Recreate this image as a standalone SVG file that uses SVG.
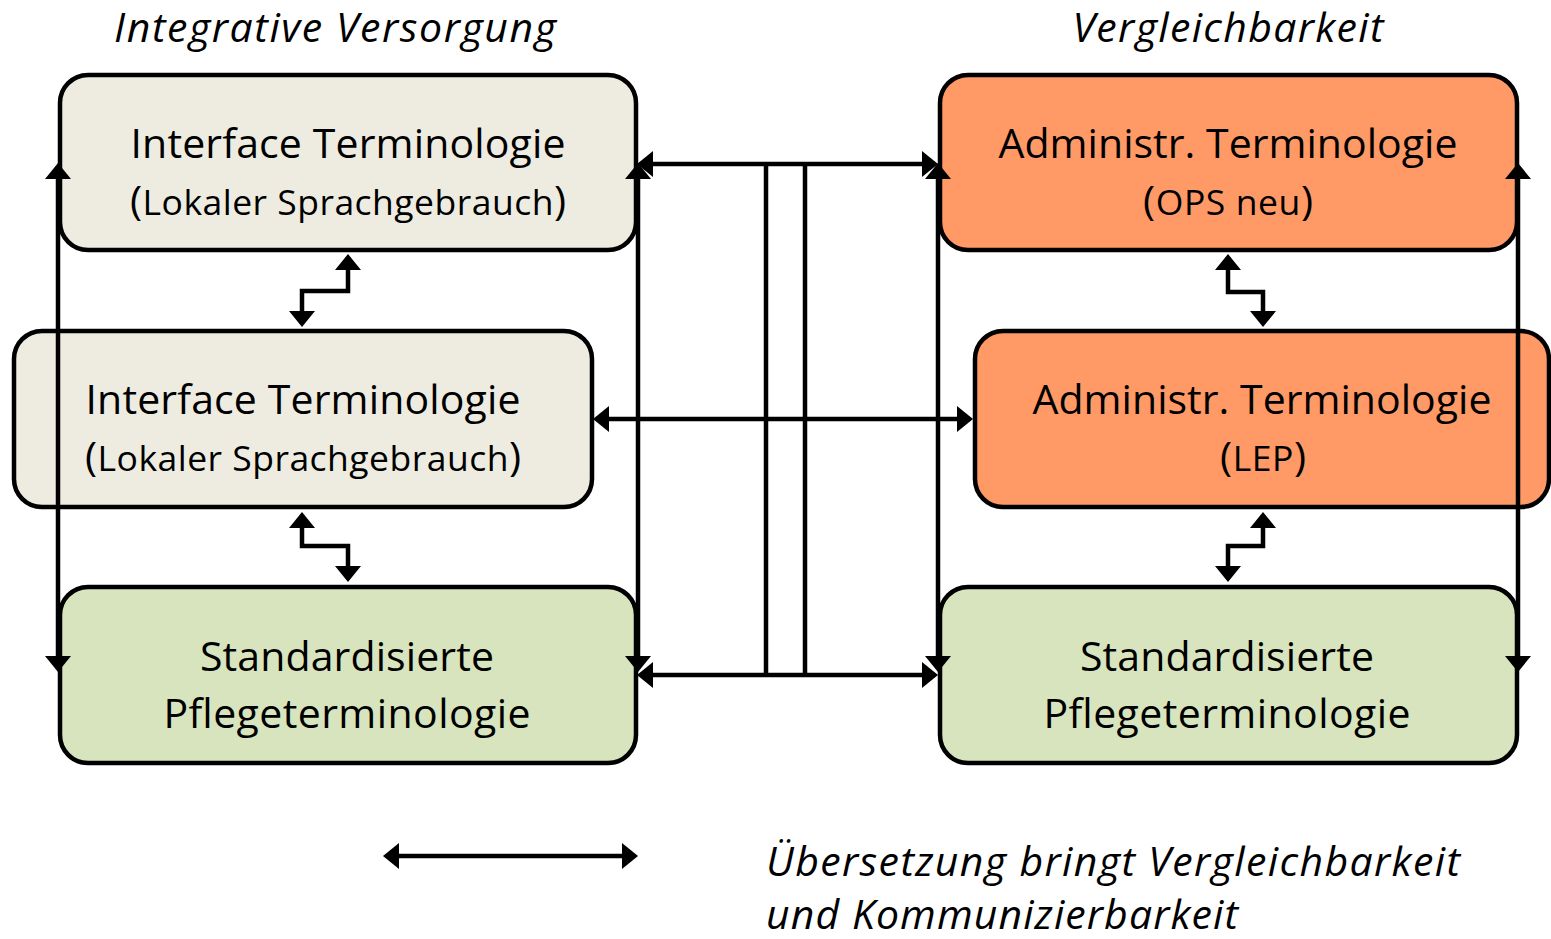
<svg xmlns="http://www.w3.org/2000/svg" width="1551" height="939" viewBox="0 0 1551 939">
<style>
.box{stroke:#000;stroke-width:4.5}
.beige{fill:#EEECE1}
.green{fill:#D7E4BD}
.orange{fill:#FF9966}
text{font-family:"Open Sans","Noto Sans",sans-serif;fill:#000;text-anchor:middle}
.big{font-size:41px}
.sub{font-size:35.5px}
.par{font-size:41px}
.it{font-style:italic;font-size:41px}
.leg{font-style:italic;font-size:41px;text-anchor:start}
.con{fill:none;stroke:#000;stroke-width:4.5}
</style>
<defs>
<marker id="ah" viewBox="0 0 16 26" markerWidth="16" markerHeight="26" refX="13" refY="13" orient="auto-start-reverse" markerUnits="userSpaceOnUse">
<path d="M0,0 L16,13 L0,26 z" fill="#000"/>
</marker>
</defs>
<rect width="1551" height="939" fill="#fff"/>
<g id="titles">
<text class="it" x="335" y="42" textLength="442">Integrative Versorgung</text>
<text class="it" x="1228" y="42" textLength="311">Vergleichbarkeit</text>
</g>
<g id="node-L1">
<rect class="box beige" x="60" y="75" width="576" height="175" rx="28"/>
<text class="big" x="348" y="158" textLength="435">Interface Terminologie</text>
<text class="sub" x="348" y="215" textLength="436"><tspan class="par">(</tspan>Lokaler Sprachgebrauch<tspan class="par">)</tspan></text>
</g>
<g id="node-L2">
<rect class="box beige" x="14" y="331" width="578" height="176" rx="28"/>
<text class="big" x="303" y="414" textLength="435">Interface Terminologie</text>
<text class="sub" x="303" y="471" textLength="436"><tspan class="par">(</tspan>Lokaler Sprachgebrauch<tspan class="par">)</tspan></text>
</g>
<g id="node-L3">
<rect class="box green" x="60" y="587" width="576" height="176" rx="28"/>
<text class="big" x="347" y="671" textLength="294">Standardisierte</text>
<text class="big" x="347" y="728" textLength="367">Pflegeterminologie</text>
</g>
<g id="node-R1">
<rect class="box orange" x="940" y="75" width="577" height="175" rx="28"/>
<text class="big" x="1228" y="158" textLength="459">Administr. Terminologie</text>
<text class="sub" x="1228" y="215" textLength="170"><tspan class="par">(</tspan>OPS neu<tspan class="par">)</tspan></text>
</g>
<g id="node-R2">
<rect class="box orange" x="975" y="331" width="574" height="176" rx="28"/>
<text class="big" x="1262" y="414" textLength="459">Administr. Terminologie</text>
<text class="sub" x="1263" y="471" textLength="86"><tspan class="par">(</tspan>LEP<tspan class="par">)</tspan></text>
</g>
<g id="node-R3">
<rect class="box green" x="940" y="587" width="577" height="176" rx="28"/>
<text class="big" x="1227" y="671" textLength="294">Standardisierte</text>
<text class="big" x="1227" y="728" textLength="367">Pflegeterminologie</text>
</g>
<g id="connectors">
<line class="con" x1="58" y1="166" x2="58" y2="669" marker-start="url(#ah)" marker-end="url(#ah)"/>
<line class="con" x1="638" y1="166" x2="638" y2="669" marker-start="url(#ah)" marker-end="url(#ah)"/>
<line class="con" x1="938" y1="166" x2="938" y2="669" marker-start="url(#ah)" marker-end="url(#ah)"/>
<line class="con" x1="1518" y1="166" x2="1518" y2="669" marker-start="url(#ah)" marker-end="url(#ah)"/>
<line class="con" x1="766" y1="164" x2="766" y2="675"/>
<line class="con" x1="805" y1="164" x2="805" y2="675"/>
<line class="con" x1="640" y1="164" x2="935" y2="164" marker-start="url(#ah)" marker-end="url(#ah)"/>
<line class="con" x1="596" y1="419" x2="970" y2="419" marker-start="url(#ah)" marker-end="url(#ah)"/>
<line class="con" x1="640" y1="675" x2="935" y2="675" marker-start="url(#ah)" marker-end="url(#ah)"/>
<path class="con" d="M348,257 V291 H302 V324" marker-start="url(#ah)" marker-end="url(#ah)"/>
<path class="con" d="M302,515 V546 H348 V579" marker-start="url(#ah)" marker-end="url(#ah)"/>
<path class="con" d="M1228,257 V292 H1263 V324" marker-start="url(#ah)" marker-end="url(#ah)"/>
<path class="con" d="M1263,515 V546 H1228 V579" marker-start="url(#ah)" marker-end="url(#ah)"/>
</g>
<g id="legend">
<line class="con" x1="386" y1="856" x2="635" y2="856" marker-start="url(#ah)" marker-end="url(#ah)"/>
<text class="leg" x="766" y="876" textLength="694">Übersetzung bringt Vergleichbarkeit</text>
<text class="leg" x="766" y="929" textLength="472">und Kommunizierbarkeit</text>
</g>
</svg>
